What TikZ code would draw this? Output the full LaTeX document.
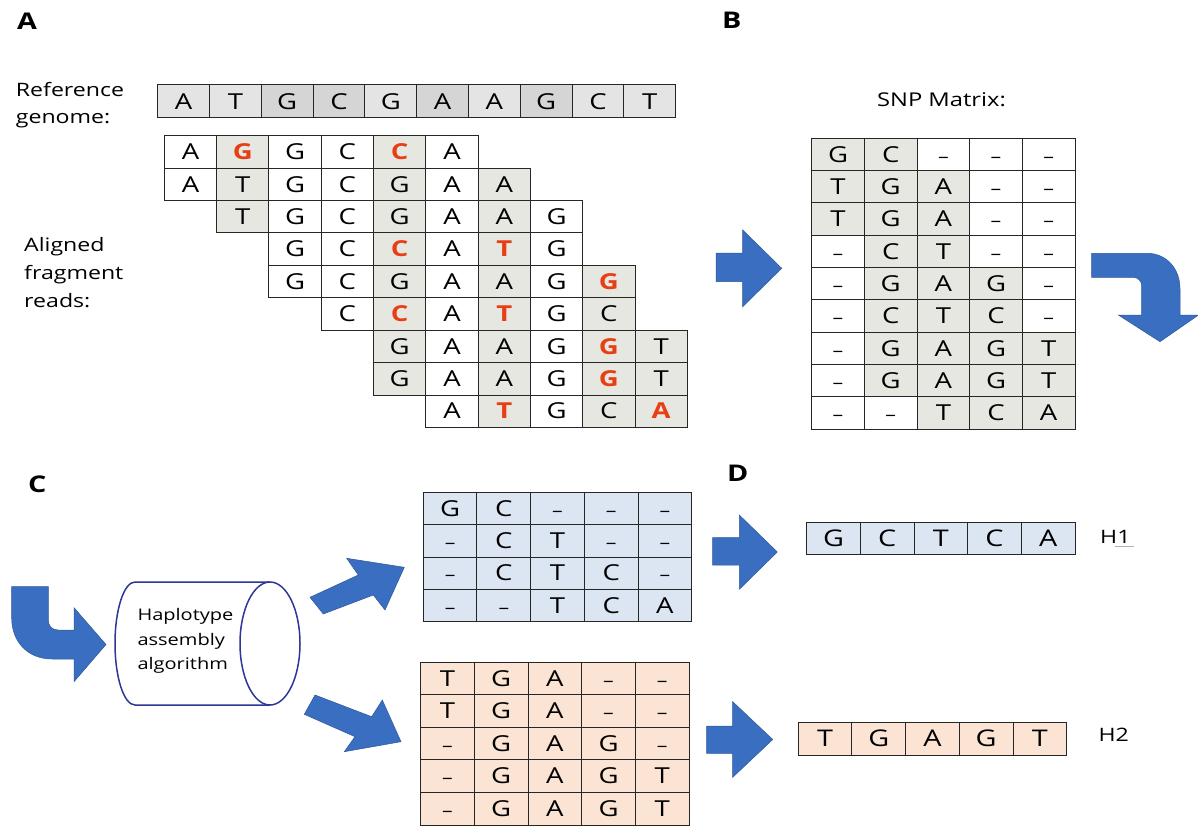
\documentclass[tikz,border=0pt]{standalone}
\usepackage{fontspec}
\setmainfont{Open Sans}[FakeStretch=1.25]
\definecolor{snpgray}{RGB}{231,231,225}
\definecolor{refgA}{RGB}{228,228,228}
\definecolor{refgB}{RGB}{213,213,213}
\definecolor{snpred}{RGB}{232,62,22}
\definecolor{hblue}{RGB}{220,229,242}
\definecolor{horange}{RGB}{251,228,212}
\definecolor{arrowblue}{RGB}{58,110,192}
\definecolor{cylblue}{RGB}{45,55,150}
\newcommand{\R}[1]{{\bfseries\color{snpred}#1}}
\newcommand{\gapdash}{{\fontsize{17}{17}\selectfont\textendash}}
\tikzset{
  snpcell/.style={draw=black!85, line width=1pt, inner sep=0pt, outer sep=0pt,
    text height=15.5pt, text depth=0pt, font=\fontsize{22}{22}\selectfont},
  blockarrow/.style={fill=arrowblue, draw=arrowblue!80!black, line width=0.5pt},
  panel/.style={anchor=base west, inner sep=0pt, font=\fontsize{23}{23}\selectfont\bfseries},
  lbl/.style={anchor=base west, inner sep=0pt, align=left},
}
\begin{document}
\begin{tikzpicture}[x=1pt,y=-1pt]
\useasboundingbox (0,0) rectangle (1198,826);
\fill[white] (0,0) rectangle (1198,826);

% ---------- panel labels
\node[panel] (pA) at (17,30) {A};
\node[panel] (pB) at (722,29) {B};
\node[panel] (pC) at (28,492) {C};
\node[panel] (pD) at (727,481) {D};

% ---------- Panel A (multi-line labels: base = last line)
\node[lbl, font=\fontsize{18.5}{27}\selectfont] (reflbl) at (15.7,123.7) {Reference\\genome:};
\node[lbl, font=\fontsize{18.5}{28}\selectfont] (readlbl) at (24,307.7) {Aligned\\fragment\\reads:};

\foreach \t/\f [count=\k from 0] in {A/refgA,T/refgA,G/refgB,C/refgB,G/refgA,A/refgB,A/refgA,G/refgB,C/refgA,T/refgA}
  \node[snpcell, fill=\f, minimum width=51.8pt, minimum height=33pt] (ref-\k) at ({157.7+51.8*(\k+0.5)},101.5) {\t};

\foreach \r/\s/\seq in {
  0/0/{A,\R G,G,C,\R C,A},
  1/0/{A,T,G,C,G,A,A},
  2/1/{T,G,C,G,A,A,G},
  3/2/{G,C,\R C,A,\R T,G},
  4/2/{G,C,G,A,A,G,\R G},
  5/3/{C,\R C,A,\R T,G,C},
  6/4/{G,A,A,G,\R G,T},
  7/4/{G,A,A,G,\R G,T},
  8/5/{A,\R T,G,C,\R A}}
{
  \foreach \l [count=\k from 0] in \seq {
    \pgfmathtruncatemacro\c{\s+\k}
    \pgfmathtruncatemacro\sh{(\c==1)||(\c==4)||(\c==6)||(\c==8)||(\c==9)}
    \ifnum\sh=1 \def\fc{snpgray}\else\def\fc{white}\fi
    \node[snpcell, fill=\fc, minimum width=52.3pt, minimum height=32.4pt]
      (rd-\r-\c) at ({164.3+52.3*(\c+0.5)},{135.8+32.4*(\r+0.5)}) {\l};
  }
}

% arrow A -> B
\path[blockarrow] (716,253) -- (742.7,253) -- (742.7,230) -- (781.7,268.3) -- (742.7,306.7) -- (742.7,281.7) -- (716,281.7) -- cycle;

% ---------- Panel B
\node[inner sep=0pt, anchor=base, font=\fontsize{19}{19}\selectfont] (snplbl) at (941.5,106.7) {SNP Matrix:};
\foreach \r/\seq in {0/{G,C,x,x,x},1/{T,G,A,x,x},2/{T,G,A,x,x},3/{x,C,T,x,x},4/{x,G,A,G,x},
                     5/{x,C,T,C,x},6/{x,G,A,G,T},7/{x,G,A,G,T},8/{x,x,T,C,A}}
{
  \foreach \l [count=\c from 0] in \seq {
    \if x\l \def\fc{white}\let\celltxt\gapdash\else\def\fc{snpgray}\let\celltxt\l\fi
    \node[snpcell, fill=\fc, minimum width=52.66pt, minimum height=32.33pt]
      (snp-\r-\c) at ({811.7+52.66*(\c+0.5)},{138.3+32.33*(\r+0.5)}) {\celltxt};
  }
}

% curved arrow B -> C
\path[blockarrow] (1091.7,253.3) -- (1147,253.3) .. controls (1166,253.3) and (1180,268) .. (1180,289)
  -- (1180,315) -- (1198.5,315) -- (1160,341.7) -- (1118.3,315) -- (1141.7,315) -- (1141.7,286)
  .. controls (1141.7,281) and (1138,277.3) .. (1133,277.3) -- (1091.7,277.3) -- cycle;

% ---------- Panel C
\path[blockarrow] (11.7,586.7) -- (11.7,618) .. controls (11.7,642) and (28,659) .. (52,659) -- (74,659)
  -- (74,681.7) -- (106,644.5) -- (74,607.7) -- (74,630) -- (58,630)
  .. controls (52,630) and (48.3,626) .. (48.3,620) -- (48.3,586.7) -- cycle;

% cylinder
\draw[cylblue, line width=1.5pt] (270,582) -- (135,582) arc[start angle=270, end angle=90, x radius=20, y radius=61.5] -- (270,705);
\draw[cylblue, line width=1.5pt, fill=white] (270,643.5) ellipse [x radius=30, y radius=61.5];
\node[lbl, font=\fontsize{16}{24.5}\selectfont] (alg) at (137.3,669.7) {Haplotype\\assembly\\algorithm};

% arrows out of the algorithm
\path[blockarrow] (310,597.3) -- (358.3,575) -- (346.7,558.3) -- (404.3,567.3) -- (385,610) -- (373.3,595) -- (323.3,614) -- cycle;
\path[blockarrow] (315,695) -- (371.7,716.7) -- (382.3,700) -- (401,741.7) -- (344.3,751.7) -- (355,736.7) -- (304.3,714.3) -- cycle;

% haplotype 1 reads
\foreach \r/\seq in {0/{G,C,x,x,x},1/{x,C,T,x,x},2/{x,C,T,C,x},3/{x,x,T,C,A}}
{
  \foreach \l [count=\c from 0] in \seq {
    \if x\l \let\celltxt\gapdash\else\let\celltxt\l\fi
    \node[snpcell, fill=hblue, minimum width=53.68pt, minimum height=32.35pt]
      (hb-\r-\c) at ({423.3+53.68*(\c+0.5)},{492.3+32.35*(\r+0.5)}) {\celltxt};
  }
}
% haplotype 2 reads
\foreach \r/\seq in {0/{T,G,A,x,x},1/{T,G,A,x,x},2/{x,G,A,G,x},3/{x,G,A,G,T},4/{x,G,A,G,T}}
{
  \foreach \l [count=\c from 0] in \seq {
    \if x\l \let\celltxt\gapdash\else\let\celltxt\l\fi
    \node[snpcell, fill=horange, minimum width=53.66pt, minimum height=32.54pt]
      (ho-\r-\c) at ({420.7+53.66*(\c+0.5)},{662.3+32.54*(\r+0.5)}) {\celltxt};
  }
}

% ---------- Panel D
\path[blockarrow] (712.7,537.7) -- (739.3,537.7) -- (739.3,515) -- (777.3,552) -- (739.3,589.3) -- (739.3,565) -- (712.7,565) -- cycle;
\path[blockarrow] (706.7,726) -- (732.7,726) -- (732.7,701.7) -- (772.7,739.5) -- (732.7,777.3) -- (732.7,753.3) -- (706.7,753.3) -- cycle;

\foreach \t [count=\c from 0] in {G,C,T,C,A}
  \node[snpcell, fill=hblue, minimum width=53.66pt, minimum height=31.3pt, font=\fontsize{23}{23}\selectfont]
    (h1-\c) at ({806.7+53.66*(\c+0.5)},538.35) {\t};
\foreach \t [count=\c from 0] in {T,G,A,G,T}
  \node[snpcell, fill=horange, minimum width=53.68pt, minimum height=32.7pt, font=\fontsize{23}{23}\selectfont]
    (h2-\c) at ({798.3+53.68*(\c+0.5)},738.65) {\t};

\node[lbl, font=\fontsize{18.5}{18.5}\selectfont] (h1lbl) at (1100,543.3) {H1};
\draw[black!30, line width=0.8pt] (1115,546.7) -- (1134,546.7);
\node[lbl, font=\fontsize{18.5}{18.5}\selectfont] (h2lbl) at (1098.3,741.7) {H2};
\end{tikzpicture}
\end{document}
